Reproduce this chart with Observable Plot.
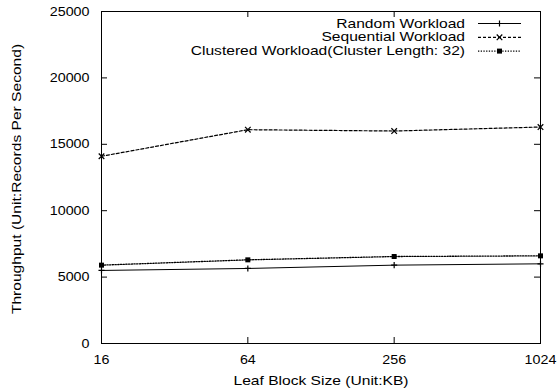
<!DOCTYPE html>
<html><head><meta charset="utf-8">
<script src="https://cdn.jsdelivr.net/npm/d3@7"></script>
<script src="https://cdn.jsdelivr.net/npm/@observablehq/plot@0.6"></script>
<style>body{margin:0;background:#fff}#chart{width:559px;height:392px}</style>
</head><body><div id="chart"></div>
<script>
const blockSizes = [16, 64, 256, 1024];
const randomWorkload = [5500, 5650, 5900, 6000];
const sequentialWorkload = [14100, 16100, 16000, 16300];
const clusteredWorkload = [5900, 6300, 6550, 6600];
const seriesNames = ["Random Workload", "Sequential Workload", "Clustered Workload(Cluster Length: 32)"];
const yTicks = [0, 5000, 10000, 15000, 20000, 25000];
const xTicks = [16, 64, 256, 1024];
const xLabel = "Leaf Block Size (Unit:KB)";
const yLabel = "Throughput (Unit:Records Per Second)";

const W = 559, H = 392, mL = 101, mR = 19, mT = 11, mB = 49;
const pw = W - mL - mR, ph = H - mT - mB;
const FONT = "'Liberation Sans', Arial, Helvetica, sans-serif";
const styles = [
  {dash: null, width: 1, symbol: "plus", d3sym: d3.symbolPlus, size: 14, fill: "none", stroke: "black"},
  {dash: "3,2", width: 1.2, symbol: "times", d3sym: d3.symbolTimes, size: 22, fill: "none", stroke: "black"},
  {dash: "1.3,1.4", width: 1.3, symbol: "square", d3sym: d3.symbolSquare, size: 25, fill: "black", stroke: "none"}
];
const series = [randomWorkload, sequentialWorkload, clusteredWorkload];

const marks = [];
series.forEach((vals, i) => {
  const data = blockSizes.map((x, j) => ({x, y: vals[j]}));
  const s = styles[i];
  marks.push(Plot.line(data, {x: "x", y: "y", stroke: "black", strokeWidth: s.width, strokeDasharray: s.dash}));
  marks.push(Plot.dot(data, {x: "x", y: "y", symbol: s.symbol, r: Math.sqrt(s.size / Math.PI), stroke: s.stroke, fill: s.fill, strokeWidth: 1.2}));
});

const svg = Plot.plot({
  width: W, height: H,
  marginLeft: mL, marginRight: mR, marginTop: mT, marginBottom: mB,
  style: {fontFamily: FONT, fontSize: "13px", background: "white", color: "black"},
  x: {type: "log", base: 2, domain: [16, 1024], axis: null},
  y: {domain: [0, 25000], axis: null},
  marks: [
    ...marks,
    Plot.tickY(yTicks, {y: d => d, stroke: "black", insetRight: pw - 6}),
    Plot.tickY(yTicks, {y: d => d, stroke: "black", insetLeft: pw - 6}),
    Plot.tickX(xTicks, {x: d => d, stroke: "black", insetTop: ph - 6}),
    Plot.tickX(xTicks, {x: d => d, stroke: "black", insetBottom: ph - 6}),
    Plot.axisY(yTicks, {tickSize: 0, tickPadding: 12, fontSize: 13, label: null, tickFormat: d => String(d)}),
    Plot.axisX(xTicks, {tickSize: 0, tickPadding: 11, fontSize: 13, label: null, tickFormat: d => String(d)}),
    Plot.text([xLabel], {frameAnchor: "bottom", dy: 37.5, textAnchor: "middle", lineAnchor: "middle", fontSize: 13, fill: "black"}),
    Plot.text([yLabel], {frameAnchor: "left", dx: -84.5, dy: 1.5, rotate: -90, textAnchor: "middle", lineAnchor: "middle", fontSize: 13, fill: "black"}),
    Plot.frame({stroke: "black", strokeWidth: 1})
  ]
});

// legend inside the plot, top-right
const g = d3.select(svg).append("g").attr("font-family", FONT).attr("font-size", 13);
seriesNames.forEach((name, i) => {
  const y = 23.5 + i * 13.8;
  const s = styles[i];
  g.append("text").attr("text-anchor", "end").attr("dy", "0.32em")
    .attr("transform", `translate(465,${y})`).attr("fill", "black").text(name);
  g.append("line").attr("x1", 478).attr("x2", 521).attr("y1", y).attr("y2", y)
    .attr("stroke", "black").attr("stroke-width", s.width).attr("stroke-dasharray", s.dash);
  g.append("path").attr("d", d3.symbol(s.d3sym, s.size)()).attr("transform", `translate(499.5,${y})`)
    .attr("fill", s.fill).attr("stroke", s.stroke).attr("stroke-width", 1.2);
});

// widen glyphs horizontally like the reference rendering
d3.select(svg).selectAll("text").each(function () {
  const t = this.getAttribute("transform");
  const isTick = !!this.closest('[aria-label$="tick label"]');
  const sc = isTick ? 1.1 : 1.2;
  if (t) {
    this.setAttribute("transform", t + ` scale(${sc},1)`);
  } else {
    const x = +this.getAttribute("x") || 0, y = +this.getAttribute("y") || 0;
    this.removeAttribute("x"); this.removeAttribute("y");
    this.setAttribute("transform", `translate(${x},${y}) scale(${sc},1)`);
  }
});

document.getElementById("chart").appendChild(svg);
</script>
</body></html>
